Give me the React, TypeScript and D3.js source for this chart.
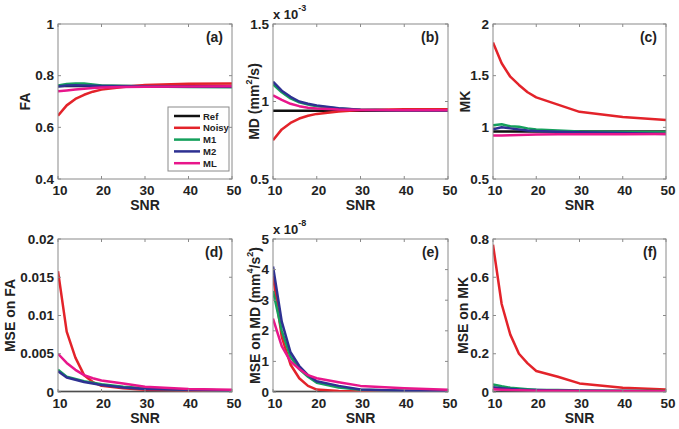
import React from "react";
import * as d3 from "d3";

const snr = [10, 12, 14, 16, 18, 20, 25, 30, 40, 50];
const seriesNames = ["Ref", "Noisy", "M1", "M2", "ML"];
const seriesColors = ["#111111", "#e3232a", "#15a05c", "#2e3192", "#e8168b"];

// (a) FA
const faRef = [0.76, 0.76, 0.76, 0.76, 0.76, 0.76, 0.76, 0.76, 0.76, 0.76];
const faNoisy = [0.645, 0.685, 0.71, 0.726, 0.738, 0.746, 0.756, 0.764, 0.769, 0.77];
const faM1 = [0.762, 0.768, 0.77, 0.77, 0.766, 0.762, 0.76, 0.758, 0.756, 0.755];
const faM2 = [0.758, 0.762, 0.763, 0.762, 0.761, 0.76, 0.759, 0.758, 0.757, 0.757];
const faML = [0.74, 0.743, 0.746, 0.749, 0.752, 0.754, 0.756, 0.757, 0.758, 0.759];

// (b) MD x1e-3
const mdRef = [0.94, 0.94, 0.94, 0.94, 0.94, 0.94, 0.94, 0.94, 0.94, 0.94];
const mdNoisy = [0.75, 0.82, 0.862, 0.89, 0.908, 0.92, 0.936, 0.945, 0.95, 0.95];
const mdM1 = [1.11, 1.06, 1.02, 0.995, 0.98, 0.97, 0.955, 0.946, 0.942, 0.942];
const mdM2 = [1.128, 1.07, 1.03, 1.0, 0.985, 0.975, 0.957, 0.946, 0.942, 0.942];
const mdML = [1.04, 1.01, 0.985, 0.97, 0.96, 0.955, 0.948, 0.945, 0.944, 0.944];

// (c) MK
const mkRef = [0.96, 0.96, 0.96, 0.96, 0.96, 0.96, 0.96, 0.96, 0.96, 0.96];
const mkNoisy = [1.82, 1.62, 1.49, 1.41, 1.34, 1.29, 1.22, 1.15, 1.1, 1.07];
const mkM1 = [1.02, 1.03, 1.01, 1.005, 0.99, 0.98, 0.97, 0.96, 0.955, 0.955];
const mkM2 = [0.98, 1.0, 0.99, 0.98, 0.97, 0.965, 0.958, 0.952, 0.945, 0.935];
const mkML = [0.92, 0.922, 0.924, 0.926, 0.928, 0.93, 0.932, 0.933, 0.934, 0.935];

// (d) MSE on FA
const mseFaRef = [0, 0, 0, 0, 0, 0, 0, 0, 0, 0];
const mseFaNoisy = [0.0158, 0.0079, 0.0045, 0.0022, 0.0013, 0.0008, 0.0005, 0.0003, 0.0002, 0.0001];
const mseFaM1 = [0.0029, 0.002, 0.0017, 0.0014, 0.0012, 0.001, 0.0007, 0.0005, 0.0003, 0.0002];
const mseFaM2 = [0.0027, 0.0019, 0.0016, 0.0013, 0.0011, 0.0009, 0.0006, 0.0004, 0.0003, 0.0002];
const mseFaML = [0.005, 0.0038, 0.0029, 0.0022, 0.0018, 0.0015, 0.0011, 0.0007, 0.0004, 0.0003];

// (e) MSE on MD x1e-8
const mseMdRef = [0, 0, 0, 0, 0, 0, 0, 0, 0, 0];
const mseMdNoisy = [3.8, 1.8, 0.9, 0.45, 0.2, 0.08, 0.03, 0.02, 0.01, 0.01];
const mseMdM1 = [3.3, 2.0, 1.15, 0.75, 0.5, 0.3, 0.15, 0.07, 0.04, 0.03];
const mseMdM2 = [4.1, 2.3, 1.3, 0.85, 0.55, 0.35, 0.2, 0.08, 0.04, 0.03];
const mseMdML = [2.4, 1.5, 1.0, 0.75, 0.55, 0.45, 0.32, 0.2, 0.12, 0.07];

// (f) MSE on MK
const mseMkRef = [0, 0, 0, 0, 0, 0, 0, 0, 0, 0];
const mseMkNoisy = [0.77, 0.46, 0.3, 0.2, 0.15, 0.11, 0.08, 0.045, 0.022, 0.013];
const mseMkM1 = [0.04, 0.03, 0.022, 0.018, 0.015, 0.012, 0.01, 0.008, 0.006, 0.005];
const mseMkM2 = [0.025, 0.02, 0.016, 0.013, 0.011, 0.01, 0.008, 0.006, 0.005, 0.004];
const mseMkML = [0.015, 0.012, 0.01, 0.009, 0.008, 0.007, 0.006, 0.005, 0.005, 0.004];

const xTicks = [10, 20, 30, 40, 50];
const yTicksA = [0.4, 0.6, 0.8, 1];
const yTicksB = [0.5, 1, 1.5];
const yTicksC = [0.5, 1, 1.5, 2];
const yTicksD = [0, 0.005, 0.01, 0.015, 0.02];
const yTicksE = [0, 1, 2, 3, 4, 5];
const yTicksF = [0, 0.2, 0.4, 0.6, 0.8];

const FONT = "Arial, 'Liberation Sans', sans-serif";
const AXIS = "#8a8a8a";
const TXT = "#222";

type PanelDef = {
  id: string;
  x0: number; x1: number; y0: number; y1: number;
  domain: [number, number];
  ticks: number[];
  series: number[][];
  ylabel: React.ReactNode;
  ylabelX: number;
  exponent?: string;
  legend?: boolean;
};

const cols = [[58, 232], [273, 448], [493, 666]];
const rows = [[24, 179], [239, 392]];

const panels: PanelDef[] = [
  { id: "(a)", x0: cols[0][0], x1: cols[0][1], y0: rows[0][0], y1: rows[0][1], domain: [0.4, 1], ticks: yTicksA,
    series: [faRef, faNoisy, faM1, faM2, faML], ylabel: "FA", ylabelX: 25, legend: true },
  { id: "(b)", x0: cols[1][0], x1: cols[1][1], y0: rows[0][0], y1: rows[0][1], domain: [0.5, 1.5], ticks: yTicksB,
    series: [mdRef, mdNoisy, mdM1, mdM2, mdML],
    ylabel: (<>MD (mm<tspan dy={-5} fontSize={9}>2</tspan><tspan dy={5}>/s)</tspan></>), ylabelX: 254, exponent: "-3" },
  { id: "(c)", x0: cols[2][0], x1: cols[2][1], y0: rows[0][0], y1: rows[0][1], domain: [0.5, 2], ticks: yTicksC,
    series: [mkRef, mkNoisy, mkM1, mkM2, mkML], ylabel: "MK", ylabelX: 465 },
  { id: "(d)", x0: cols[0][0], x1: cols[0][1], y0: rows[1][0], y1: rows[1][1], domain: [0, 0.02], ticks: yTicksD,
    series: [mseFaRef, mseFaNoisy, mseFaM1, mseFaM2, mseFaML], ylabel: "MSE on FA", ylabelX: 10 },
  { id: "(e)", x0: cols[1][0], x1: cols[1][1], y0: rows[1][0], y1: rows[1][1], domain: [0, 5], ticks: yTicksE,
    series: [mseMdRef, mseMdNoisy, mseMdM1, mseMdM2, mseMdML],
    ylabel: (<>MSE on MD (mm<tspan dy={-5} fontSize={9}>4</tspan><tspan dy={5}>/s</tspan><tspan dy={-5} fontSize={9}>2</tspan><tspan dy={5}>)</tspan></>),
    ylabelX: 255, exponent: "-8" },
  { id: "(f)", x0: cols[2][0], x1: cols[2][1], y0: rows[1][0], y1: rows[1][1], domain: [0, 0.8], ticks: yTicksF,
    series: [mseMkRef, mseMkNoisy, mseMkM1, mseMkM2, mseMkML], ylabel: "MSE on MK", ylabelX: 463 },
];

function fmt(v: number) {
  return String(+v.toFixed(4));
}

function Panel({ p, idx }: { p: PanelDef; idx: number }) {
  const x = d3.scaleLinear().domain([10, 50]).range([p.x0, p.x1]);
  const y = d3.scaleLinear().domain(p.domain).range([p.y1, p.y0]);
  const line = d3.line<number>().x((_, i) => x(snr[i])).y((v) => y(v));
  const tl = 3;
  const midY = (p.y0 + p.y1) / 2;
  const clipId = "clip" + idx;
  return (
    <g>
      <defs>
        <clipPath id={clipId}>
          <rect x={p.x0} y={p.y0} width={p.x1 - p.x0} height={p.y1 - p.y0} />
        </clipPath>
      </defs>
      <rect x={p.x0} y={p.y0} width={p.x1 - p.x0} height={p.y1 - p.y0} fill="#fff" stroke="none" />
      <g clipPath={`url(#${clipId})`}>
        {p.series.map((s, i) => (
          <path key={i} d={line(s) || ""} fill="none" stroke={seriesColors[i]} strokeWidth={2.5} strokeLinejoin="round" />
        ))}
      </g>
      <rect x={p.x0} y={p.y0} width={p.x1 - p.x0} height={p.y1 - p.y0} fill="none" stroke={AXIS} strokeWidth={1} />
      {xTicks.map((t) => (
        <g key={"x" + t}>
          <line x1={x(t)} x2={x(t)} y1={p.y1} y2={p.y1 - tl} stroke={AXIS} />
          <line x1={x(t)} x2={x(t)} y1={p.y0} y2={p.y0 + tl} stroke={AXIS} />
          <text x={x(t) + 2} y={p.y1 + 16} textAnchor="middle" fontSize={13.5} fontWeight="bold" fill={TXT}>{t}</text>
        </g>
      ))}
      {p.ticks.map((t) => (
        <g key={"y" + t}>
          <line x1={p.x0} x2={p.x0 + tl} y1={y(t)} y2={y(t)} stroke={AXIS} />
          <line x1={p.x1} x2={p.x1 - tl} y1={y(t)} y2={y(t)} stroke={AXIS} />
          <text x={p.x0 - 4} y={y(t) + 4.5} textAnchor="end" fontSize={13.5} fontWeight="bold" fill={TXT}>{fmt(t)}</text>
        </g>
      ))}
      <text x={(p.x0 + p.x1) / 2} y={p.y1 + 31} textAnchor="middle" fontSize={14} fontWeight="bold" fill={TXT}>SNR</text>
      <text transform={`translate(${p.ylabelX},${midY}) rotate(-90)`} textAnchor="middle" dominantBaseline="central"
        fontSize={14} fontWeight="bold" fill={TXT}>{p.ylabel}</text>
      {p.exponent && (
        <text x={p.x0} y={p.y0 - 5} fontSize={13} fontWeight="bold" fill={TXT}>
          x 10<tspan dy={-8} fontSize={9}>{p.exponent}</tspan>
        </text>
      )}
      <text x={p.x1 - 9} y={p.y0 + 18} textAnchor="end" fontSize={14} fontWeight="bold" fill={TXT}>{p.id}</text>
      {p.legend && (
        <g>
          <rect x={168} y={107} width={61} height={64} fill="#fff" stroke={AXIS} strokeWidth={1} />
          {seriesNames.map((n, i) => (
            <g key={n}>
              <line x1={174} x2={200} y1={116 + i * 11.8} y2={116 + i * 11.8} stroke={seriesColors[i]} strokeWidth={2.5} />
              <text x={203} y={116 + i * 11.8 + 3.5} fontSize={9.5} fontWeight="bold" fill={TXT}>{n}</text>
            </g>
          ))}
        </g>
      )}
    </g>
  );
}

export default function App() {
  return (
    <svg width={679} height={429} style={{ position: "absolute", left: 0, top: 0, fontFamily: FONT }}>
      <rect x={0} y={0} width={679} height={429} fill="#fff" />
      {panels.map((p, i) => <Panel key={p.id} p={p} idx={i} />)}
    </svg>
  );
}
